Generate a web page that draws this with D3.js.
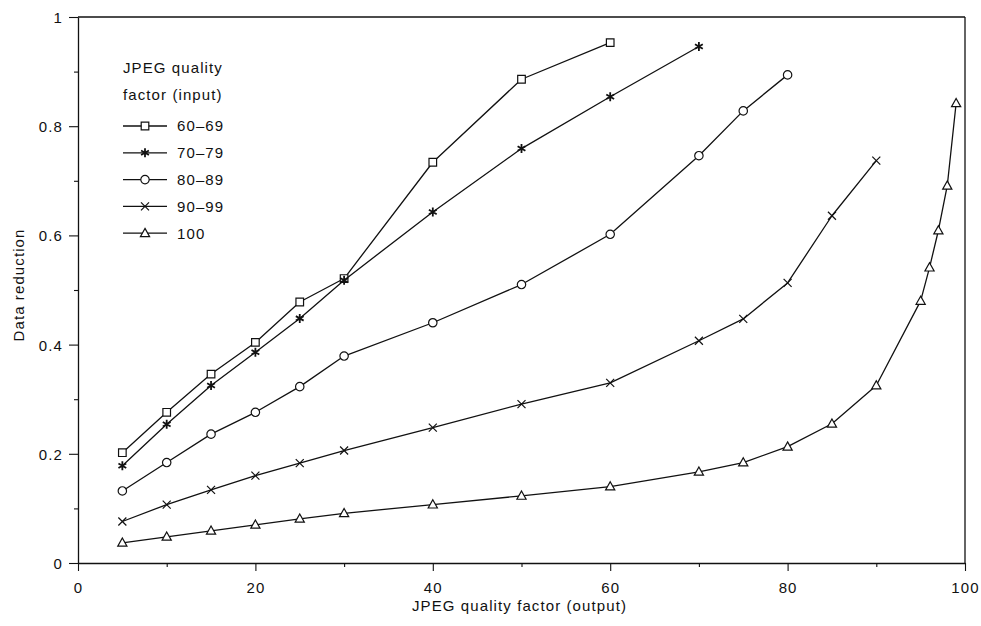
<!DOCTYPE html>
<html>
<head>
<meta charset="utf-8">
<script src="https://cdn.jsdelivr.net/npm/d3@7"></script>
<style>
  html, body { margin: 0; padding: 0; background: #fff; }
  svg text { font-family: "Liberation Sans", Arial, sans-serif; fill: #111; }
</style>
</head>
<body>
<svg id="chart" width="981" height="626"></svg>
<script>
// ---- Data ----
const seriesNames = ["60\u201369", "70\u201379", "80\u201389", "90\u201399", "100"];
const x60 = [5, 10, 15, 20, 25, 30, 40, 50, 60];
const v60 = [0.202, 0.276, 0.346, 0.404, 0.478, 0.521, 0.734, 0.886, 0.953];
const x70 = [5, 10, 15, 20, 25, 30, 40, 50, 60, 70];
const v70 = [0.178, 0.254, 0.325, 0.386, 0.448, 0.518, 0.643, 0.759, 0.854, 0.946];
const x80 = [5, 10, 15, 20, 25, 30, 40, 50, 60, 70, 75, 80];
const v80 = [0.132, 0.184, 0.236, 0.276, 0.323, 0.379, 0.440, 0.510, 0.602, 0.746, 0.828, 0.894];
const x90 = [5, 10, 15, 20, 25, 30, 40, 50, 60, 70, 75, 80, 85, 90];
const v90 = [0.076, 0.107, 0.134, 0.160, 0.183, 0.206, 0.248, 0.291, 0.330, 0.407, 0.447, 0.513, 0.636, 0.737];
const x100 = [5, 10, 15, 20, 25, 30, 40, 50, 60, 70, 75, 80, 85, 90, 95, 96, 97, 98, 99];
const v100 = [0.037, 0.048, 0.059, 0.070, 0.081, 0.091, 0.107, 0.123, 0.140, 0.167, 0.184, 0.213, 0.255, 0.325, 0.480, 0.541, 0.609, 0.691, 0.842];
const xMajorTicks = [0, 20, 40, 60, 80, 100];
const xMinorTicks = [10, 30, 50, 70, 90];
const yMajorTicks = [0, 0.2, 0.4, 0.6, 0.8, 1];
const yMinorTicks = [0.1, 0.3, 0.5, 0.7, 0.9];
const legendTitle = ["JPEG quality", "factor (input)"];
const xTitle = "JPEG quality factor (output)";
const yTitle = "Data reduction";

const markers = ["square", "star", "circle", "times", "triangle"];
const seriesX = [x60, x70, x80, x90, x100];
const seriesV = [v60, v70, v80, v90, v100];
const series = seriesNames.map((n, i) => ({
  name: n, marker: markers[i],
  points: seriesX[i].map((x, j) => ({ x, y: seriesV[i][j] }))
}));

// ---- Layout ----
const plotL = 78, plotR = 965, plotT = 17, plotB = 563;
const x = d3.scaleLinear().domain([0, 100]).range([plotL, plotR]);
const y = d3.scaleLinear().domain([0, 1]).range([plotB, plotT]);

const svg = d3.select("#chart");
const ink = "#111";
const fontSize = 15, ls = "1.1px";

// frame (top & right)
svg.append("line").attr("x1", plotL).attr("x2", plotR).attr("y1", plotT).attr("y2", plotT)
  .attr("stroke", ink).attr("stroke-width", 1.3);
svg.append("line").attr("x1", plotR).attr("x2", plotR).attr("y1", plotT).attr("y2", plotB)
  .attr("stroke", ink).attr("stroke-width", 1.3);

// axes
const gx = svg.append("g").attr("transform", `translate(0,${plotB})`)
  .call(d3.axisBottom(x).tickValues(xMajorTicks).tickSize(8).tickSizeOuter(0).tickFormat(d3.format("d")));
const gxm = svg.append("g").attr("transform", `translate(0,${plotB})`)
  .call(d3.axisBottom(x).tickValues(xMinorTicks).tickSize(4).tickSizeOuter(0).tickFormat(""));
const gy = svg.append("g").attr("transform", `translate(${plotL},0)`)
  .call(d3.axisLeft(y).tickValues(yMajorTicks).tickSize(9).tickSizeOuter(0).tickFormat(d => d === 0 || d === 1 ? String(d) : d3.format(".1f")(d)));
const gym = svg.append("g").attr("transform", `translate(${plotL},0)`)
  .call(d3.axisLeft(y).tickValues(yMinorTicks).tickSize(4).tickSizeOuter(0).tickFormat(""));

[gx, gxm, gy, gym].forEach(g => {
  g.select(".domain").attr("stroke", ink).attr("stroke-width", 1.3);
  g.selectAll(".tick line").attr("stroke", ink).attr("stroke-width", 1.1);
  g.selectAll("text").attr("font-size", fontSize).attr("font-family", "Liberation Sans, Arial, sans-serif")
    .style("letter-spacing", ls).attr("fill", ink);
});
gym.select(".domain").remove();
gxm.select(".domain").remove();
gx.selectAll("text").attr("dy", null).attr("y", 30);
gy.selectAll("text").attr("x", -15).attr("dy", "0.36em");

// axis titles
svg.append("text").attr("x", (plotL + plotR) / 2 - 2).attr("y", 611)
  .attr("text-anchor", "middle").attr("font-size", fontSize).style("letter-spacing", ls)
  .text(xTitle);
svg.append("text").attr("transform", "translate(24,285) rotate(-90)")
  .attr("text-anchor", "middle").attr("font-size", fontSize).style("letter-spacing", ls)
  .text(yTitle);

// marker paths (shape outlines centered at 0,0)
function markerPath(type) {
  const p = d3.path();
  if (type === "square") { p.rect(-3.8, -3.8, 7.6, 7.6); }
  else if (type === "circle") { p.moveTo(4.2, 0); p.arc(0, 0, 4.2, 0, 2 * Math.PI); }
  else if (type === "triangle") { p.moveTo(0, -4.8); p.lineTo(4.6, 3.4); p.lineTo(-4.6, 3.4); p.closePath(); }
  else if (type === "times") { p.moveTo(-4, -4); p.lineTo(4, 4); p.moveTo(-4, 4); p.lineTo(4, -4); }
  else if (type === "star") {
    for (let k = 0; k < 3; k++) {
      const a = Math.PI / 2 + k * Math.PI / 3;
      p.moveTo(-4.5 * Math.cos(a), -4.5 * Math.sin(a)); p.lineTo(4.5 * Math.cos(a), 4.5 * Math.sin(a));
    }
  }
  return p.toString();
}

const line = d3.line().x(d => x(d.x)).y(d => y(d.y));

series.forEach(s => {
  const g = svg.append("g");
  g.append("path").attr("d", line(s.points)).attr("fill", "none")
    .attr("stroke", ink).attr("stroke-width", 1.3).attr("stroke-linejoin", "round");
  g.selectAll("path.m").data(s.points).enter().append("path").attr("class", "m")
    .attr("transform", d => `translate(${x(d.x)},${y(d.y)})`)
    .attr("d", markerPath(s.marker))
    .attr("fill", s.marker === "star" ? ink : "#fff")
    .attr("stroke", ink).attr("stroke-width", s.marker === "star" ? 1.8 : 1.2);
});

// legend
const lg = svg.append("g");
legendTitle.forEach((t, i) => {
  lg.append("text").attr("x", 123).attr("y", 73 + i * 27).attr("font-size", fontSize)
    .style("letter-spacing", ls).text(t);
});
series.forEach((s, i) => {
  const cy = 126 + i * 26.8;
  lg.append("line").attr("x1", 123).attr("x2", 167).attr("y1", cy).attr("y2", cy)
    .attr("stroke", ink).attr("stroke-width", 1.3);
  lg.append("path").attr("transform", `translate(145,${cy})`).attr("d", markerPath(s.marker))
    .attr("fill", s.marker === "star" ? ink : "#fff")
    .attr("stroke", ink).attr("stroke-width", s.marker === "star" ? 1.8 : 1.2);
  lg.append("text").attr("x", 177).attr("y", cy).attr("dy", "0.36em").attr("font-size", fontSize)
    .style("letter-spacing", ls).text(s.name);
});
</script>
</body>
</html>
